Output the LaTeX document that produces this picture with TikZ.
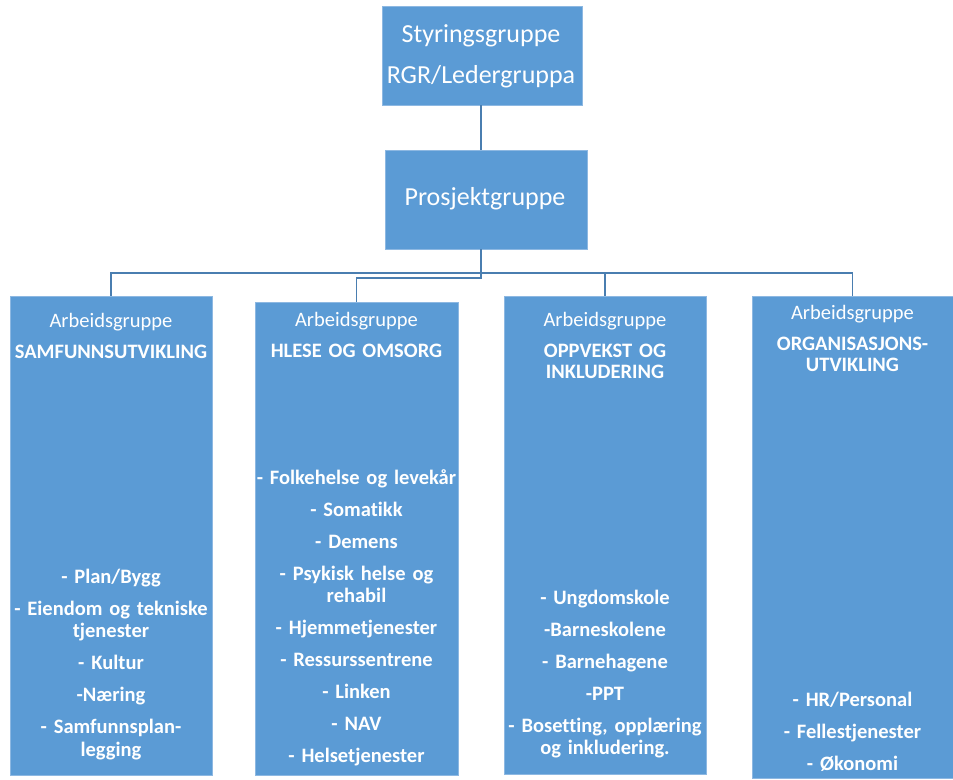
\documentclass[tikz,border=0pt]{standalone}
\usepackage{fontspec}
\setmainfont{Carlito}[Ligatures={NoCommon}]
\definecolor{boxblue}{HTML}{5B9BD5}
\definecolor{boxedge}{HTML}{8DB8E2}
\definecolor{connblue}{HTML}{4A7EB0}
\tikzset{
  orgbox/.style={draw=boxedge, line width=0.8pt, fill=boxblue, rectangle, inner sep=0pt},
  toptext/.style={text=white, font=\fontsize{26}{40.5}\selectfont, align=center, text width=200pt, inner sep=0pt, anchor=base},
  headtext/.style={text=white, font=\fontsize{20.5}{21.5}\selectfont, align=center, text width=204pt, inner sep=0pt, anchor=base},
  listtext/.style={text=white, font=\fontsize{20.5}{22.5}\selectfont\bfseries, align=center, text width=206pt, inner sep=0pt, anchor=base},
  conn/.style={draw=connblue, line width=1.6pt}
}
\begin{document}
\begin{tikzpicture}[x=1pt, y=-1pt]
\useasboundingbox (0,0) rectangle (953,779);
% boxes
\node[orgbox, minimum width=200pt, minimum height=99pt] (sty) at (482,55.5) {};
\node[orgbox, minimum width=202pt, minimum height=99pt] (pro) at (486,199.5) {};
\node[orgbox, minimum width=202pt, minimum height=479pt] (a1) at (111,535.5) {};
\node[orgbox, minimum width=203pt, minimum height=473pt] (a2) at (356.5,538.5) {};
\node[orgbox, minimum width=202pt, minimum height=478pt] (a3) at (605,535) {};
\node[orgbox, minimum width=201pt, minimum height=482pt] (a4) at (852.5,537) {};
% connectors
\coordinate (bus) at (481,273);
\coordinate (jog) at (481,278);
\draw[conn] (sty.south -| bus) -- (pro.north -| bus);
\draw[conn] (pro.south -| bus) -- (jog) -| (a2.north);
\draw[conn] (a1.north) -- (a1.north |- bus) -- (a4.north |- bus) -- (a4.north);
\draw[conn] (a3.north) -- (a3.north |- bus);
% top texts
\node[toptext] (styt) at (481,42.7) {Styringsgruppe\\RGR/Ledergruppa};
\node[toptext] (prot) at (485,205) {Prosjektgruppe};
% headers
\node[headtext] (h1) at (111,327) {Arbeidsgruppe\\[9.5pt]\textbf{SAMFUNNSUTVIKLING}};
\node[headtext] (h2) at (356.5,326) {Arbeidsgruppe\\[9.5pt]\textbf{HLESE OG OMSORG}};
\node[headtext] (h3) at (605,326) {Arbeidsgruppe\\[9.5pt]\textbf{OPPVEKST OG}\\\textbf{INKLUDERING}};
\node[headtext] (h4) at (852.5,319) {Arbeidsgruppe\\[9.5pt]\textbf{ORGANISASJONS-}\\\textbf{UTVIKLING}};
% lists
\node[listtext] (l1) at (111,583) {- Plan/Bygg\\[9.5pt]- Eiendom og tekniske\\tjenester\\[9.5pt]- Kultur\\[9.5pt]-Næring\\[9.5pt]- Samfunnsplan-\\legging};
\node[listtext] (l2) at (356.5,484) {- Folkehelse og levekår\\[9.5pt]- Somatikk\\[9.5pt]- Demens\\[9.5pt]- Psykisk helse og\\rehabil\\[9.5pt]- Hjemmetjenester\\[9.5pt]- Ressurssentrene\\[9.5pt]- Linken\\[9.5pt]- NAV\\[9.5pt]- Helsetjenester};
\node[listtext] (l3) at (605,604) {- Ungdomskole\\[9.5pt]-Barneskolene\\[9.5pt]- Barnehagene\\[9.5pt]-PPT\\[9.5pt]- Bosetting, opplæring\\og inkludering.};
\node[listtext] (l4) at (852.5,706) {- HR/Personal\\[9.5pt]- Fellestjenester\\[9.5pt]- Økonomi};
\end{tikzpicture}
\end{document}
